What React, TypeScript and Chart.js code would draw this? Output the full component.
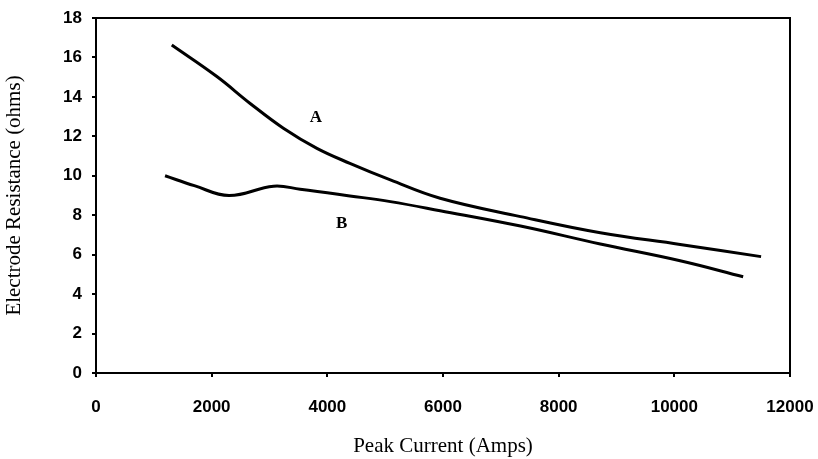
import React, { useEffect, useRef } from "react";
import { Chart, registerables } from "chart.js";

Chart.register(...registerables);

const seriesAX = [1310, 2090, 2660, 3240, 3820, 4390, 5090, 5950, 7340, 8720, 10100, 11500];
const seriesAY = [16.63, 15.03, 13.68, 12.41, 11.39, 10.63, 9.79, 8.86, 7.93, 7.11, 6.52, 5.9];
const seriesBX = [1194, 1700, 2300, 3070, 3530, 4390, 5090, 5950, 7340, 8720, 10100, 11190];
const seriesBY = [10.0, 9.5, 9.0, 9.47, 9.32, 8.98, 8.69, 8.23, 7.45, 6.54, 5.69, 4.88];

const curveLabels = ["A", "B"];
const curveLabelX = [3800, 4250];
const curveLabelY = [12.95, 7.6];

const xTitle = "Peak Current (Amps)";
const yTitle = "Electrode Resistance (ohms)";

const frameAndLabels = {
  id: "frameAndLabels",
  afterDatasetsDraw(chart: any) {
    const { ctx, chartArea, scales } = chart;
    ctx.save();
    ctx.strokeStyle = "#000";
    ctx.lineWidth = 2;
    ctx.strokeRect(chartArea.left, chartArea.top, chartArea.right - chartArea.left, chartArea.bottom - chartArea.top);
    ctx.fillStyle = "#000";
    ctx.font = "bold 17px 'Liberation Serif'";
    ctx.textAlign = "center";
    ctx.textBaseline = "middle";
    curveLabels.forEach((t, i) => {
      ctx.fillText(t, scales.x.getPixelForValue(curveLabelX[i]), scales.y.getPixelForValue(curveLabelY[i]));
    });
    ctx.restore();
  },
};

export default function App() {
  const ref = useRef<HTMLCanvasElement>(null);
  useEffect(() => {
    document.body.style.margin = "0";
    const chart = new Chart(ref.current!, {
      type: "line",
      data: {
        datasets: [
          {
            label: "A",
            data: seriesAX.map((x, i) => ({ x, y: seriesAY[i] })),
            borderColor: "#000",
            borderWidth: 3,
            pointRadius: 0,
            tension: 0.4,
          },
          {
            label: "B",
            data: seriesBX.map((x, i) => ({ x, y: seriesBY[i] })),
            borderColor: "#000",
            borderWidth: 3,
            pointRadius: 0,
            tension: 0.4,
          },
        ],
      },
      options: {
        animation: false,
        responsive: false,
        layout: { padding: { top: 18, right: 28, left: 0, bottom: 0 } },
        plugins: { legend: { display: false }, tooltip: { enabled: false } },
        scales: {
          x: {
            type: "linear",
            min: 0,
            max: 12000,
            afterFit(s: any) {
              s.height = 86;
              s.paddingLeft = 0;
              s.paddingRight = 0;
            },
            ticks: {
              stepSize: 2000,
              color: "#000",
              padding: 20,
              maxRotation: 0,
              callback: (v: any) => String(v),
              font: { family: "'Liberation Sans'", weight: "bold", size: 17 },
            },
            grid: { drawOnChartArea: false, drawTicks: true, tickLength: 4, color: "#000", lineWidth: 2 },
            border: { display: true, color: "#000", width: 2 },
            title: {
              display: true,
              text: xTitle,
              color: "#000",
              padding: { top: 5, bottom: 0 },
              font: { family: "'Liberation Serif'", size: 21 },
            },
          },
          y: {
            min: 0,
            max: 18,
            afterFit(s: any) {
              s.width = 96;
              s.paddingTop = 0;
              s.paddingBottom = 0;
            },
            ticks: {
              stepSize: 2,
              color: "#000",
              padding: 10,
              callback: (v: any) => String(v),
              font: { family: "'Liberation Sans'", weight: "bold", size: 17 },
            },
            grid: { drawOnChartArea: false, drawTicks: true, tickLength: 4, color: "#000", lineWidth: 2 },
            border: { display: true, color: "#000", width: 2 },
            title: {
              display: true,
              text: yTitle,
              color: "#000",
              padding: { top: 2, bottom: 0 },
              font: { family: "'Liberation Serif'", size: 21 },
            },
          },
        },
      },
      plugins: [frameAndLabels],
    });
    return () => chart.destroy();
  }, []);
  return (
    <div style={{ width: 818, height: 459, background: "#fff" }}>
      <canvas ref={ref} width={818} height={459} style={{ display: "block" }} />
    </div>
  );
}
